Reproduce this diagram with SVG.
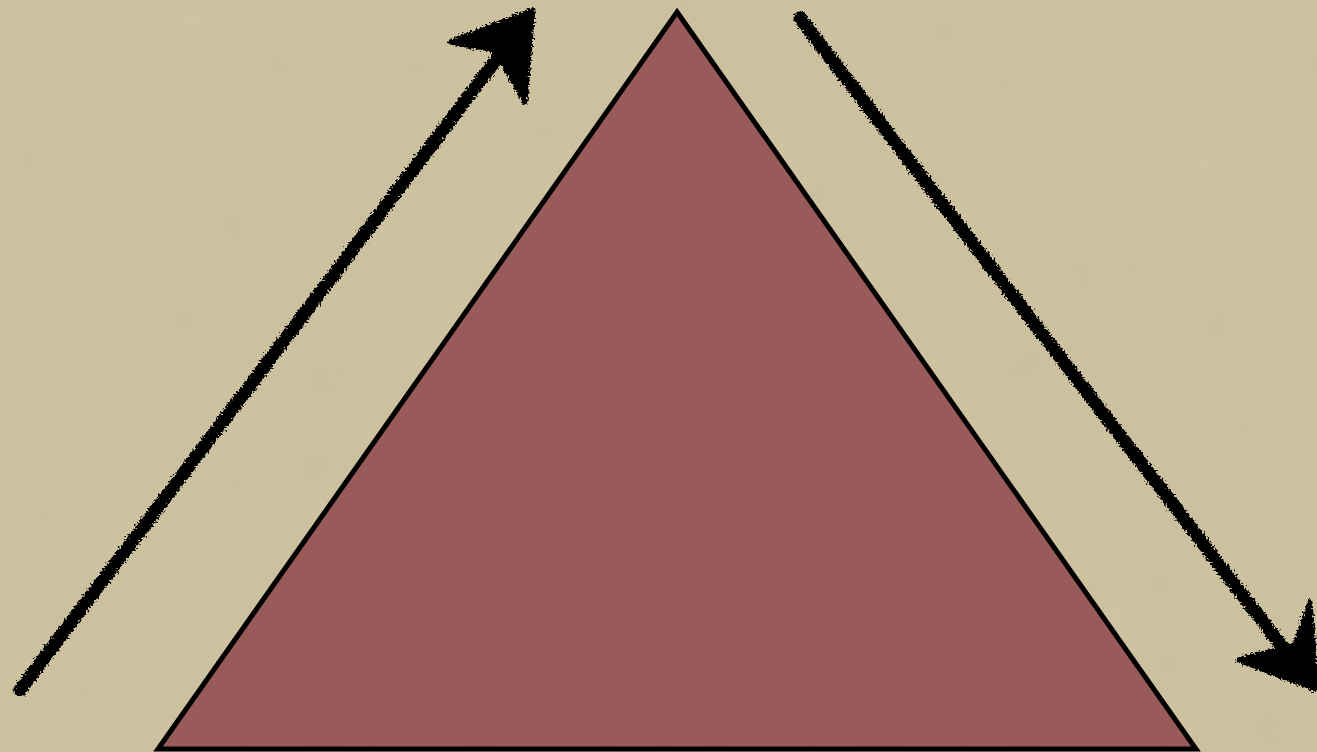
<svg xmlns="http://www.w3.org/2000/svg" width="1317" height="752" viewBox="0 0 1317 752">
  <defs>
    <filter id="rough" x="-10%" y="-10%" width="120%" height="120%">
      <feTurbulence type="fractalNoise" baseFrequency="0.5" numOctaves="2" seed="3" result="n"/>
      <feDisplacementMap in="SourceGraphic" in2="n" scale="8" xChannelSelector="R" yChannelSelector="G"/>
    </filter>
    <filter id="paper" x="0" y="0" width="100%" height="100%">
      <feTurbulence type="fractalNoise" baseFrequency="0.02" numOctaves="3" seed="7" result="t"/>
      <feColorMatrix in="t" type="matrix" values="0 0 0 0 0  0 0 0 0 0  0 0 0 0 0  0 0 0 0.06 0" result="tn"/>
      <feComposite in="tn" in2="SourceGraphic" operator="over"/>
    </filter>
    <style>
      .arrow { fill: none; stroke: #000; stroke-width: 13; stroke-linecap: round; stroke-linejoin: round; filter: url(#rough); }
      .head { fill: #000; stroke: #000; stroke-width: 5; stroke-linejoin: round; filter: url(#rough); }
    </style>
  </defs>
  <rect x="0" y="0" width="1317" height="752" fill="#cfc4a2" filter="url(#paper)"/>
  <g id="triangle">
    <polygon points="677,12 1196,749 158,749" fill="#995a5a" stroke="#000" stroke-width="5" stroke-linejoin="miter"/>
  </g>
  <g id="connectors">
    <g id="arrow-up">
      <path class="arrow" d="M20,690 L520,28"/>
      <path class="head" d="M533,10 L450,42 L495,50 L525,102 Z"/>
    </g>
    <g id="arrow-down">
      <path class="arrow" d="M800,18 L1300,670"/>
      <path class="head" d="M1317,690 L1310,602 L1295,645 L1238,660 Z"/>
    </g>
  </g>
</svg>
